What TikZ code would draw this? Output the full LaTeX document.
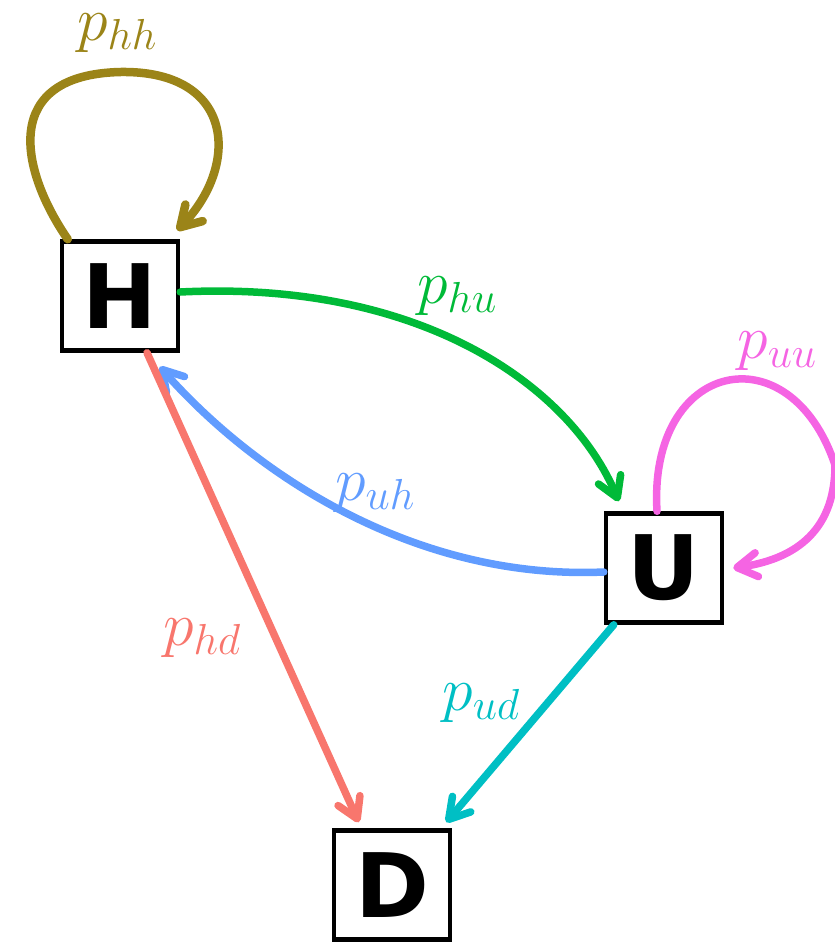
\documentclass[tikz,border=0pt]{standalone}
\usepackage{fix-cm}
\usepackage{fontspec}
\newfontfamily\boxfont{DejaVu Sans}[BoldFont={DejaVu Sans Bold}]
\usetikzlibrary{arrows.meta}
\definecolor{colhh}{HTML}{9B8418}
\definecolor{colhu}{HTML}{00BA38}
\definecolor{coluh}{HTML}{619CFF}
\definecolor{coluu}{HTML}{F564E3}
\definecolor{colhd}{HTML}{F8766D}
\definecolor{colud}{HTML}{00BFC4}
\begin{document}
\begin{tikzpicture}[x=1pt,y=-1pt,
  state/.style={draw=black, line width=4.5pt, fill=white, inner sep=0pt,
    minimum width=116pt, minimum height=109pt,
    font=\boxfont\bfseries\fontsize{89}{89}\selectfont},
  edge/.style={line width=7.5pt, line cap=round,
    -{Straight Barb[length=20pt,width=24pt,line cap=round,line join=round]}},
  lbl/.style={font=\fontsize{62}{62}\selectfont, inner sep=0pt}]
\useasboundingbox (0,0) rectangle (835,943);
\node[state] (H) at (120,296) {H};
\node[state] (U) at (664,568) {U};
\node[state] (D) at (392,885) {D};
% self loops
\draw[edge, colhh, line width=8.5pt] ([xshift=8pt]H.north west) .. controls (20,170) and (0,75) .. (120,72)
  .. controls (235,70) and (240,165) .. ([xshift=-3pt,yshift=9pt]H.north east);
\draw[edge, coluu] ([xshift=-7pt]U.north) .. controls (648,360) and (790,330) .. (835,465)
  .. controls (835,535) and (790,560) .. ([xshift=9pt]U.east);
% transitions
\draw[edge, colhu] ([yshift=4pt]H.east) .. controls (420,280) and (570,385) .. ([xshift=15pt,yshift=10pt]U.north west);
\draw[edge, coluh] ([yshift=-4pt]U.west) .. controls (420,580) and (260,480) .. ([xshift=100pt,yshift=-14pt]H.south west);
\draw[edge, colhd] ([xshift=27pt]H.south) -- ([xshift=27pt,yshift=6pt]D.north west);
\draw[edge, colud] ([xshift=10pt]U.south west) -- ([xshift=-6pt,yshift=6pt]D.north east);
% labels
\node[lbl, text=colhh] (lhh) at (117,33) {$p_{hh}$};
\node[lbl, text=colhu] (lhu) at (457,296) {$p_{hu}$};
\node[lbl, text=coluu] (luu) at (777,351) {$p_{uu}$};
\node[lbl, text=coluh] (luh) at (375,493) {$p_{uh}$};
\node[lbl, text=colhd] (lhd) at (202,638) {$p_{hd}$};
\node[lbl, text=colud] (lud) at (481,703) {$p_{ud}$};
\end{tikzpicture}
\end{document}
